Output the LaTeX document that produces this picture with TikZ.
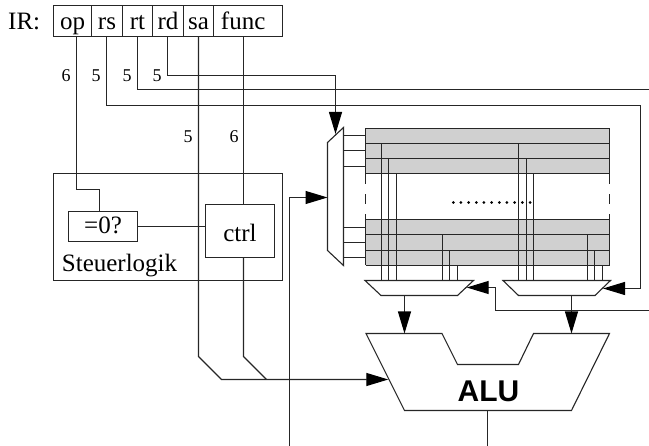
\documentclass[tikz,border=0pt]{standalone}
\usepackage{fontspec}
\setmainfont{Liberation Serif}
\newfontfamily\alufont{Liberation Sans}
\usetikzlibrary{arrows.meta}
\definecolor{rowgray}{HTML}{D0D0D0}
\tikzset{
  wire/.style={line width=1.1pt,draw=black!85,line join=miter},
  arr/.style={wire,-{Triangle[length=22pt,width=13pt,color=black]}},
  box/.style={draw=black!85,line width=1.1pt,inner sep=0pt,outer sep=0pt,font=\fontsize{25}{30}\selectfont},
  field/.style={box,minimum height=31pt,text height=17pt,text depth=0.4pt},
  widthlabel/.style={font=\fontsize{18}{20}\selectfont,inner sep=0pt,anchor=center},
  caption/.style={font=\fontsize{25}{30}\selectfont,inner sep=0pt,anchor=base west},
  unit/.style={wire,fill=white}
}
\begin{document}
\begin{tikzpicture}[x=1pt,y=-1pt]
\useasboundingbox (0,0) rectangle (649,446);
% instruction register
\node[caption] (irlabel) at (8,30) {IR:};
\node[field,minimum width=38pt] (op) at (72.5,21) {op};
\node[field,minimum width=31pt] (rs) at (107,21) {rs};
\node[field,minimum width=30pt] (rt) at (137.5,21) {rt};
\node[field,minimum width=31pt] (rd) at (168,21) {rd};
\node[field,minimum width=30pt] (sa) at (198.5,21) {sa};
\node[field,minimum width=69pt] (func) at (248,21) {func\hspace*{9.6pt}};
% width labels
\node[widthlabel] (w1) at (66,76) {6};
\node[widthlabel] (w2) at (96,76) {5};
\node[widthlabel] (w3) at (127,76) {5};
\node[widthlabel] (w4) at (157,76) {5};
\node[widthlabel] (w5) at (188,137) {5};
\node[widthlabel] (w6) at (234,137) {6};
% control logic
\node[box,minimum width=229pt,minimum height=107pt] (steuer) at (168,227) {};
\node[caption] (steuertext) at (61.7,271.7) {Steuerlogik};
\node[box,minimum width=69pt,minimum height=30pt,text height=17pt,text depth=2pt] (eq) at (103,226.5) {=0?};
\node[box,minimum width=69pt,minimum height=53pt,text height=21pt,text depth=0pt] (ctrl) at (240,231) {ctrl};
% register rows
\fill[rowgray] (365.5,128.5) rectangle (609.5,173.5);
\fill[rowgray] (365.5,219.5) rectangle (609.5,265.5);
\foreach \y in {128.5,143.5,158.5,173.5,219.5,234.5,250.5,265.5}
  \draw[wire] (365.5,\y) -- (609.5,\y);
\foreach \x in {365.5,609.5}{
  \draw[wire] (\x,128.5) -- (\x,173.5);
  \draw[wire] (\x,219.5) -- (\x,265.5);
  \draw[wire] (\x,173.5) -- (\x,184);
  \draw[wire] (\x,194.5) -- (\x,204.5);
  \draw[wire] (\x,214.5) -- (\x,219.5);
}
\foreach \i in {0,...,10}
  \fill (453.3+\i*7.67,202.5) circle (1.5pt);
% read-port multiplexers
\coordinate (mp1a) at (365,280.5); \coordinate (mp1b) at (473.5,280.5);
\coordinate (mp1c) at (457.5,295.5); \coordinate (mp1d) at (381,295.5);
\coordinate (mp2a) at (503,280.5); \coordinate (mp2b) at (610.5,280.5);
\coordinate (mp2c) at (595,295.5); \coordinate (mp2d) at (518.5,295.5);
\foreach \x/\y in {381.5/143.5,388.5/158.5,396.5/173.5,442.5/234.5,449.5/250.5,457.5/265.5,
                   518.5/143.5,526.5/158.5,533.5/173.5,587.5/234.5,594.5/250.5,602.5/265.5}
  \draw[wire] (\x,\y) -- (\x,280.5);
\draw[unit] (mp1a) -- (mp1b) -- (mp1c) -- (mp1d) -- cycle;
\draw[unit] (mp2a) -- (mp2b) -- (mp2c) -- (mp2d) -- cycle;
% write multiplexer
\coordinate (wma) at (327.5,142.5); \coordinate (wmb) at (343.5,127.5);
\coordinate (wmc) at (343.5,265.5); \coordinate (wmd) at (327.5,250.5);
\draw[unit] (wma) -- (wmb) -- (wmc) -- (wmd) -- cycle;
\foreach \y in {135.5,150.5,166.5,227.5,242.5,257.5}
  \draw[wire] (343.5,\y) -- (365.5,\y);
% ALU
\coordinate (alua) at (366,333.5); \coordinate (alub) at (442,333.5);
\coordinate (aluc) at (457.5,364.5); \coordinate (alud) at (518.5,364.5);
\coordinate (alue) at (533.5,333.5); \coordinate (aluf) at (609.5,333.5);
\coordinate (alug) at (571.5,410.5); \coordinate (aluh) at (404.5,410.5);
\draw[unit] (alua) -- (alub) -- (aluc) -- (alud) -- (alue) -- (aluf) -- (alug) -- (aluh) -- cycle;
\node[inner sep=0pt,anchor=base,font=\alufont\bfseries\fontsize{30}{30}\selectfont] (alutext) at (488.5,401.7) {ALU};
% free ends
\coordinate (edgeA) at (649,89.5);
\coordinate (edgeB) at (649,310.5);
\coordinate (bottomA) at (289.5,446);
\coordinate (bottomB) at (487.5,446);
\coordinate (aluIn) at (388.3,379.5);
\coordinate (wmIn) at (327.5,197.5);
\coordinate (wmTop) at (335.5,134);
\coordinate (p2In) at (603,288.5);
\coordinate (p1In) at (466.7,287.5);
% connectors
\draw[wire] (76.5,36.5) -- (76.5,189.5) -- (99.5,189.5) -- (99.5,211.5);
\draw[wire] (eq.east) -- (ctrl.west |- eq.east);
\draw[arr] (167.5,36.5) -- (167.5,75.5) -- (335.5,75.5) -- (wmTop);
\draw[wire] (137.5,36.5) -- (137.5,89.5) -- (edgeA);
\draw[arr] (106.5,36.5) -- (106.5,105.5) -- (640.5,105.5) -- (640.5,288.5) -- (p2In);
\draw[arr] (edgeB) -- (495.5,310.5) -- (495.5,287.5) -- (p1In);
\draw[wire] (243.5,36.5) -- (243.5,204.5);
\draw[wire] (243.5,257.5) -- (243.5,356.5) -- (266.5,379.5);
\draw[arr] (198.5,36.5) -- (198.5,356.5) -- (221.5,379.5) -- (aluIn);
\draw[arr] (bottomA) -- (289.5,197.5) -- (wmIn);
\draw[arr] (404.5,295.5) -- (404.5,333.5);
\draw[arr] (571.5,295.5) -- (571.5,333.5);
\draw[wire] (487.5,410.5) -- (bottomB);
\end{tikzpicture}
\end{document}
